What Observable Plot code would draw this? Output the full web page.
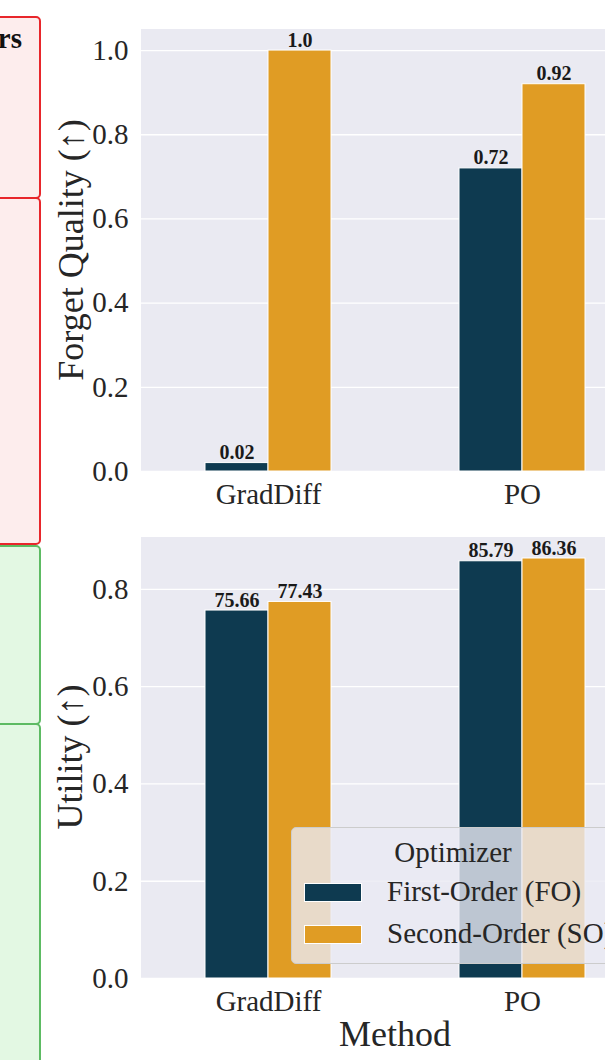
<!DOCTYPE html>
<html>
<head>
<meta charset="utf-8">
<script src="https://cdn.jsdelivr.net/npm/d3@7"></script>
<script src="https://cdn.jsdelivr.net/npm/@observablehq/plot@0.6"></script>
<style>
  html, body { margin: 0; padding: 0; background: #fff; }
  body { width: 605px; height: 1060px; overflow: hidden; position: relative; font-family: "Liberation Serif", "Times New Roman", serif; }
  .abs { position: absolute; }
  svg { max-width: none !important; }
  .panel-red { background: #fdeded; border: 2px solid #e8262b; border-radius: 5px; box-sizing: border-box; }
  .panel-green { background: #e3f8e3; border: 2px solid #5dbb63; border-radius: 5px; box-sizing: border-box; }
  .ylabel { font-size: 36px; color: #262626; white-space: nowrap; transform-origin: center center; }
  .legend { background: rgba(234,234,242,0.8); border: 1px solid #cccccc; border-radius: 5px; box-sizing: border-box; color: #262626; font-size: 29px; }
  .sw { position: absolute; width: 58px; height: 19px; box-sizing: border-box; border: 1px solid #fff; }
</style>
</head>
<body>
<div id="deco"></div>
<div id="top" class="abs" style="left:0;top:0"></div>
<div id="bottom" class="abs" style="left:0;top:530px"></div>
<div id="overlay"></div>
<script>
// ---- data ----
const methods = ["GradDiff", "PO"];
const optimizers = ["First-Order (FO)", "Second-Order (SO)"];
const colors = ["#0e3a50", "#e09c24"];
const forgetFO = [0.02, 0.72];
const forgetSO = [1.0, 0.92];
const utilityFO = [75.66, 85.79];
const utilitySO = [77.43, 86.36];
const forgetTicks = [0, 0.2, 0.4, 0.6, 0.8, 1.0];
const utilityTicks = [0, 0.2, 0.4, 0.6, 0.8];
const forgetLabel = "Forget Quality (↑)";
const utilityLabel = "Utility (↑)";
const xLabel = "Method";
const legendTitle = "Optimizer";

function rows(fo, so, scale, fmt) {
  const out = [];
  methods.forEach((m, i) => {
    out.push({method: m, opt: optimizers[0], value: fo[i] / scale, label: fmt(fo[i])});
    out.push({method: m, opt: optimizers[1], value: so[i] / scale, label: fmt(so[i])});
  });
  return out;
}
const fmtForget = v => Number.isInteger(v) ? v.toFixed(1) : String(v);
const fmtUtil = v => v.toFixed(2);

const forgetRows = rows(forgetFO, forgetSO, 1, fmtForget);
const utilityRows = rows(utilityFO, utilitySO, 100, fmtUtil);

function panel(data, ticks, ymax, marginTop, marginBottom) {
  const svg = Plot.plot({
    width: 660,
    height: 530,
    marginLeft: 141,
    marginRight: 11,
    marginTop,
    marginBottom,
    style: {fontFamily: "'Liberation Serif', 'Times New Roman', serif", fontSize: "29px", color: "#262626", background: "transparent", overflow: "visible"},
    facet: {data, x: "method"},
    fx: {domain: methods, paddingInner: 0, paddingOuter: 0, tickSize: 0, tickPadding: 12, label: null},
    x: {domain: optimizers, paddingInner: 0, paddingOuter: 1, axis: null},
    y: {domain: [0, ymax], ticks, tickFormat: ".1f", tickSize: 0, tickPadding: 13, label: null},
    color: {domain: optimizers, range: colors},
    marks: [
      Plot.frame({fill: "#eaeaf2", stroke: "#eaeaf2", strokeWidth: 1}),
      Plot.ruleY(ticks, {stroke: "#ffffff", strokeWidth: 1.3}),
      Plot.barY(data, {x: "opt", y: "value", fill: "opt", stroke: "#ffffff", strokeWidth: 1}),
      Plot.text(data, {x: "opt", y: "value", text: "label", lineAnchor: "bottom", dy: -4, fontSize: 20, fontWeight: "bold", fill: "#1a1a1a"})
    ]
  });
  svg.style.maxWidth = "none";
  return svg;
}

document.getElementById("top").appendChild(panel(forgetRows, forgetTicks, 1.05, 29, 59));
document.getElementById("bottom").appendChild(panel(utilityRows, utilityTicks, 0.8636 * 1.05, 7, 82));

// ---- side panels (cropped neighbours) ----
const deco = document.getElementById("deco");
deco.innerHTML = `
  <div class="abs panel-red" style="left:-20px;top:16px;width:61px;height:183px"></div>
  <div class="abs panel-red" style="left:-20px;top:197px;width:61px;height:348px"></div>
  <div class="abs panel-green" style="left:-20px;top:545px;width:61px;height:180px"></div>
  <div class="abs panel-green" style="left:-20px;top:723px;width:61px;height:360px"></div>
  <div class="abs" style="left:-60px;top:22px;width:82px;text-align:right;font-weight:bold;font-size:29px;color:#111">rs</div>
`;

// ---- axis titles and legend ----
const ov = document.getElementById("overlay");
function ylab(text, cy) {
  const d = document.createElement("div");
  d.className = "abs ylabel";
  d.textContent = text;
  ov.appendChild(d);
  const w = d.offsetWidth, h = d.offsetHeight;
  d.style.left = (70 - w / 2) + "px";
  d.style.top = (cy - h / 2) + "px";
  d.style.transform = "rotate(-90deg)";
}
ylab(forgetLabel, 250);
ylab(utilityLabel, 757);

const ml = document.createElement("div");
ml.className = "abs";
ml.style.cssText = "left:395px;top:1013px;width:0;white-space:nowrap;font-size:36px;color:#262626;display:flex;justify-content:center";
ml.innerHTML = `<span>${xLabel}</span>`;
ov.appendChild(ml);

const lg = document.createElement("div");
lg.className = "abs legend";
lg.style.cssText += "left:291px;top:827px;width:322px;height:137px;";
lg.innerHTML = `
  <div class="abs" style="left:0;width:322px;top:8px;text-align:center">${legendTitle}</div>
  ${optimizers.map((o, i) => `
    <div class="sw" style="left:12px;top:${55 + i * 42}px;background:${colors[i]}"></div>
    <div class="abs" style="left:95px;top:${47 + i * 42}px;white-space:nowrap">${o}</div>`).join("")}
`;
ov.appendChild(lg);
</script>
</body>
</html>
